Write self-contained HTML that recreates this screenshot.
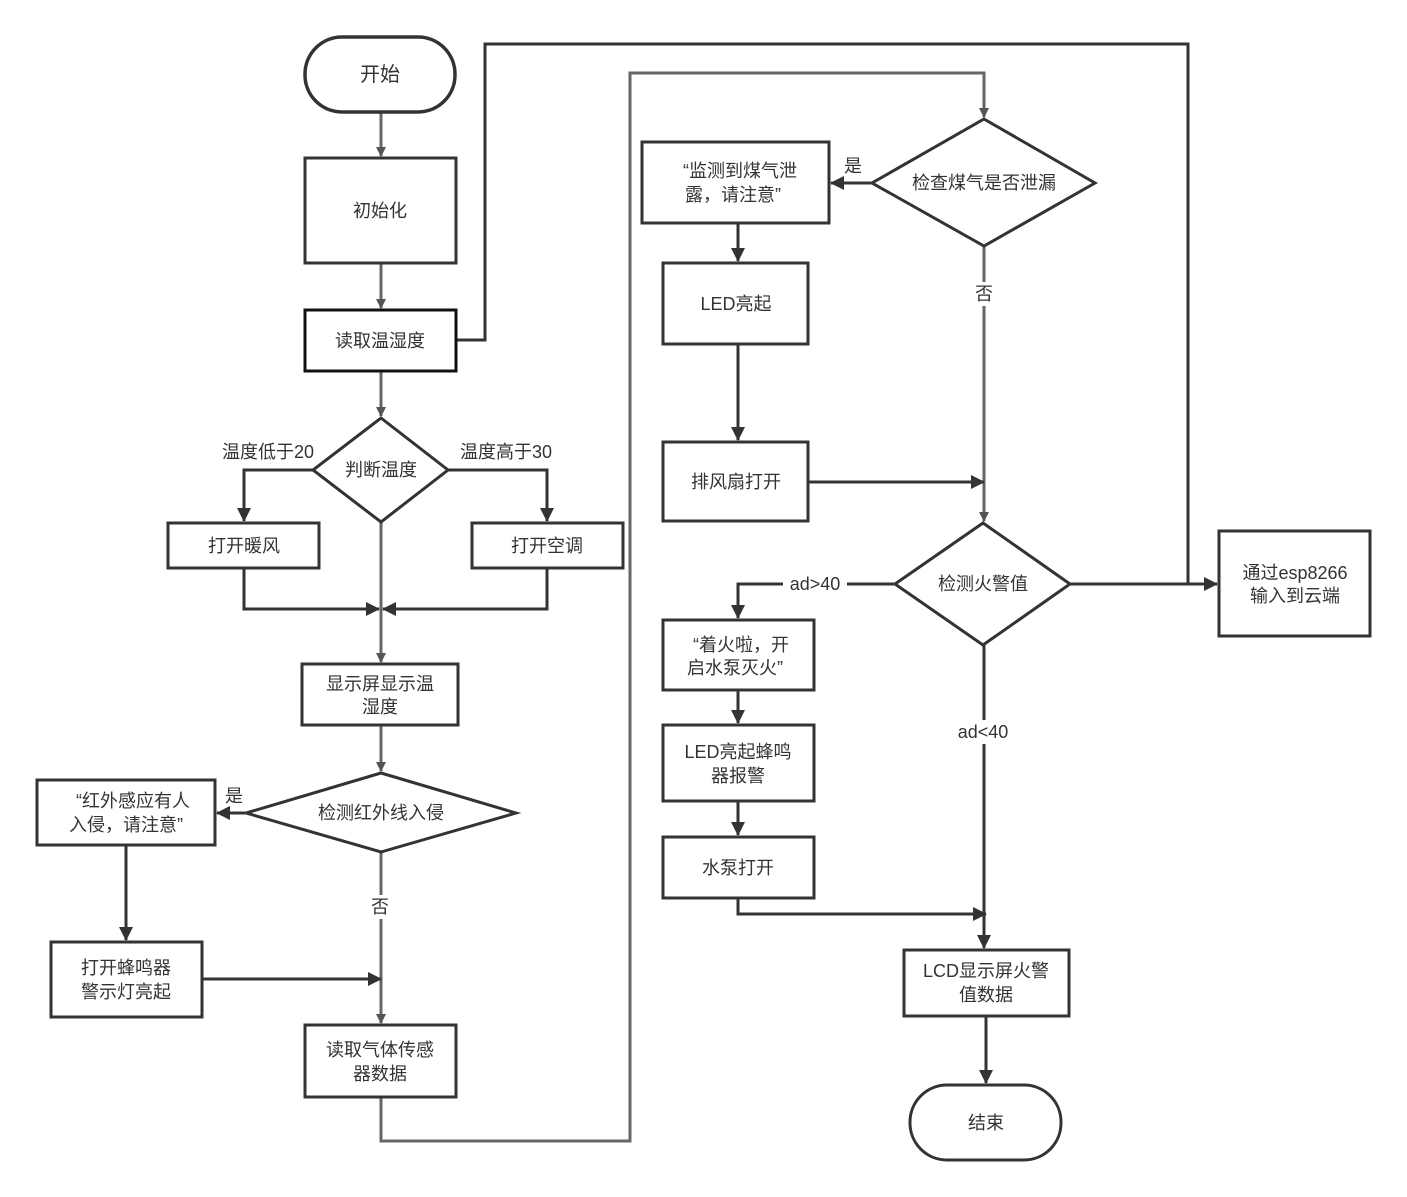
<!DOCTYPE html>
<html><head><meta charset="utf-8"><style>
body{margin:0;background:#fff}
svg{display:block}
text{font-family:"Liberation Sans","Noto Sans CJK SC",sans-serif;font-size:18px;fill:#333;text-anchor:middle;dominant-baseline:central}
</style></head><body>
<svg width="1407" height="1197" viewBox="0 0 1407 1197" xmlns="http://www.w3.org/2000/svg">
<defs>
<marker id="ag" markerWidth="10" markerHeight="10" refX="9" refY="5" orient="auto" markerUnits="userSpaceOnUse"><path d="M0,0 L10,5 L0,10 Z" fill="#555"/></marker>
<marker id="ad" markerWidth="14" markerHeight="14" refX="13" refY="7" orient="auto" markerUnits="userSpaceOnUse"><path d="M0,0 L14,7 L0,14 Z" fill="#333"/></marker>
</defs>
<g fill="none" stroke-width="3">
<!-- gray connectors -->
<g stroke="#666">
<path d="M381,112 V156" marker-end="url(#ag)"/>
<path d="M381,263 V308" marker-end="url(#ag)"/>
<path d="M381,371 V416" marker-end="url(#ag)"/>
<path d="M381,522 V662" marker-end="url(#ag)"/>
<path d="M381,725 V771" marker-end="url(#ag)"/>
<path d="M381,852 V1023" marker-end="url(#ag)"/>
<path d="M381,1097 V1141 H630 V73 H984 V117" marker-end="url(#ag)"/>
<path d="M984,246 V521" marker-end="url(#ag)"/>
</g>
<g stroke="#333">
<path d="M456,340 H485 V44 H1188 V585"/>
<path d="M313,470 H244 V521" marker-end="url(#ad)"/>
<path d="M448,470 H547 V521" marker-end="url(#ad)"/>
<path d="M244,568 V609 H379" marker-end="url(#ad)"/>
<path d="M547,568 V609 H383" marker-end="url(#ad)"/>
<path d="M246,813 H217" marker-end="url(#ad)"/>
<path d="M126,845 V940" marker-end="url(#ad)"/>
<path d="M202,979 H381" marker-end="url(#ad)"/>
<path d="M872,183 H831" marker-end="url(#ad)"/>
<path d="M738,223 V261" marker-end="url(#ad)"/>
<path d="M738,344 V440" marker-end="url(#ad)"/>
<path d="M808,482 H984" marker-end="url(#ad)"/>
<path d="M895,584 H738 V618" marker-end="url(#ad)"/>
<path d="M738,690 V723" marker-end="url(#ad)"/>
<path d="M738,801 V835" marker-end="url(#ad)"/>
<path d="M738,898 V914 H986" marker-end="url(#ad)"/>
<path d="M984,645 V948" marker-end="url(#ad)"/>
<path d="M1070,584 H1217" marker-end="url(#ad)"/>
<path d="M986,1016 V1083" marker-end="url(#ad)"/>
</g>
<!-- nodes -->
<g stroke="#333" fill="#fff">
<rect x="305" y="37" width="150" height="75" rx="37" stroke-width="3.5"/>
<rect x="305" y="158" width="151" height="105"/>
<rect x="305" y="310" width="151" height="61" stroke="#111"/>
<polygon points="381,418 448,470 381,522 313,470"/>
<rect x="168" y="523" width="151" height="45"/>
<rect x="472" y="523" width="151" height="45"/>
<rect x="302" y="664" width="156" height="61"/>
<polygon points="381,773 516,813 381,852 246,813"/>
<rect x="37" y="780" width="178" height="65"/>
<rect x="51" y="942" width="151" height="75"/>
<rect x="305" y="1025" width="151" height="72"/>
<polygon points="984,119 1095,183 984,246 872,183"/>
<rect x="642" y="142" width="187" height="81"/>
<rect x="663" y="263" width="145" height="81"/>
<rect x="663" y="442" width="145" height="79"/>
<polygon points="983,523 1070,584 983,645 895,584"/>
<rect x="663" y="620" width="151" height="70"/>
<rect x="663" y="725" width="151" height="76"/>
<rect x="663" y="837" width="151" height="61"/>
<rect x="904" y="950" width="165" height="66"/>
<rect x="910" y="1085" width="151" height="75" rx="37"/>
<rect x="1219" y="531" width="151" height="105"/>
</g>
</g>
<!-- label backgrounds -->
<rect x="370" y="895" width="22" height="24" fill="#fff"/>
<rect x="972" y="282" width="24" height="24" fill="#fff"/>
<rect x="783" y="573" width="64" height="22" fill="#fff"/>
<rect x="950" y="720" width="66" height="24" fill="#fff"/>
<text x="380" y="75" style="font-size:20px">开始</text>
<text x="380" y="211">初始化</text>
<text x="380" y="341">读取温湿度</text>
<text x="381" y="470">判断温度</text>
<text x="268" y="452">温度低于20</text>
<text x="506" y="452">温度高于30</text>
<text x="244" y="546">打开暖风</text>
<text x="547" y="546">打开空调</text>
<text x="380" y="684">显示屏显示温</text>
<text x="380" y="707">湿度</text>
<text x="381" y="813">检测红外线入侵</text>
<text x="234" y="796">是</text>
<text x="133" y="801">“红外感应有人</text>
<text x="126" y="825">入侵，请注意”</text>
<text x="380" y="907">否</text>
<text x="126" y="968">打开蜂鸣器</text>
<text x="126" y="992">警示灯亮起</text>
<text x="380" y="1050">读取气体传感</text>
<text x="380" y="1074">器数据</text>
<text x="984" y="183">检查煤气是否泄漏</text>
<text x="853" y="166">是</text>
<text x="740" y="171">“监测到煤气泄</text>
<text x="733" y="195">露，请注意”</text>
<text x="736" y="304">LED亮起</text>
<text x="736" y="482">排风扇打开</text>
<text x="984" y="294">否</text>
<text x="983" y="584">检测火警值</text>
<text x="815" y="584">ad&gt;40</text>
<text x="983" y="732">ad&lt;40</text>
<text x="741" y="645">“着火啦，开</text>
<text x="735" y="668">启水泵灭火”</text>
<text x="738" y="752">LED亮起蜂鸣</text>
<text x="738" y="776">器报警</text>
<text x="738" y="868">水泵打开</text>
<text x="986" y="971">LCD显示屏火警</text>
<text x="986" y="995">值数据</text>
<text x="986" y="1123">结束</text>
<text x="1295" y="573">通过esp8266</text>
<text x="1295" y="596">输入到云端</text>
</svg>
</body></html>
